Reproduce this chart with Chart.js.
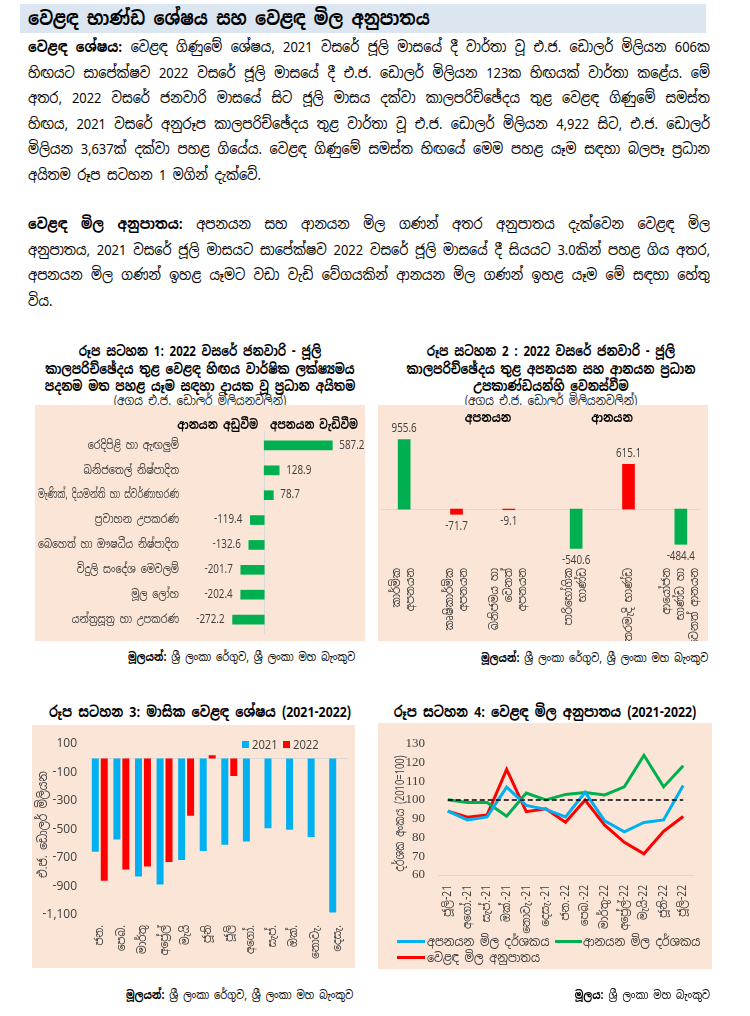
<!DOCTYPE html>
<html lang="si">
<head>
<meta charset="utf-8">
<script src="https://cdn.jsdelivr.net/npm/chart.js@4.4.0/dist/chart.umd.min.js"></script>
<style>
body{margin:0;width:750px;height:1016px;background:#fff;font-family:"Noto Sans Sinhala","Iskoola Pota","Nirmala UI","Noto Sans",sans-serif;color:#000;position:relative;overflow:hidden}
.abs{position:absolute}
#head{left:20px;top:4px;width:686px;height:29px;background:#dce6f1}
#head span{position:absolute;left:8px;top:0;font-weight:bold;font-size:19px;line-height:29px;white-space:nowrap;transform:scaleX(0.87);transform-origin:left center}
.para{left:28px;width:793px;font-size:15px;transform:scaleX(0.86);transform-origin:left top}
.jl{height:25.6px;line-height:25.6px;text-align:justify;text-align-last:justify;overflow:visible}
.ll{height:25.6px;line-height:25.6px}
.ctitle{font-weight:bold;font-size:14px;line-height:17.5px;text-align:center;white-space:nowrap;transform:scaleX(0.82);transform-origin:center top}
.sub{font-size:13px;line-height:16px;text-align:center;color:#222;white-space:nowrap;transform:scaleX(0.82);transform-origin:center top}
.panel{background:#fbe5d6}
.src{font-size:12px;line-height:16px;white-space:nowrap;transform:scaleX(0.82);transform-origin:right center}
.hdr{font-size:13px;font-weight:bold;line-height:18px;white-space:nowrap}
.lg{font-size:13px;line-height:16px;color:#404040;white-space:nowrap;transform:scaleX(0.86);transform-origin:left center}
canvas{position:absolute}
</style>
</head>
<body>
<div id="head" class="abs"><span>වෙළඳ භාණ්ඩ ශේෂය සහ වෙළඳ මිල අනුපාතය</span></div>
<div class="abs para" style="top:34px">
  <div class="jl"><b>වෙළඳ ශේෂය:</b> වෙළඳ ගිණුමේ ශේෂය, 2021 වසරේ ජූලි මාසයේ දී වාර්තා වූ එ.ජ. ඩොලර් මිලියන 606ක</div>
  <div class="jl">හිඟයට සාපේක්ෂව 2022 වසරේ ජූලි මාසයේ දී එ.ජ. ඩොලර් මිලියන 123ක හිඟයක් වාර්තා කළේය. මේ</div>
  <div class="jl">අතර, 2022 වසරේ ජනවාරි මාසයේ සිට ජූලි මාසය දක්වා කාලපරිච්ඡේදය තුළ වෙළඳ ගිණුමේ සමස්ත</div>
  <div class="jl">හිඟය, 2021 වසරේ අනුරූප කාලපරිච්ඡේදය තුළ වාර්තා වූ එ.ජ. ඩොලර් මිලියන 4,922 සිට, එ.ජ. ඩොලර්</div>
  <div class="jl">මිලියන 3,637ක් දක්වා පහළ ගියේය. වෙළඳ ගිණුමේ සමස්ත හිඟයේ මෙම පහළ යෑම සඳහා බලපෑ ප්‍රධාන</div>
  <div class="ll">අයිතම රූප සටහන 1 මගින් දැක්වේ.</div>
</div>
<div class="abs para" style="top:211px">
  <div class="jl"><b>වෙළඳ මිල අනුපාතය:</b> අපනයන සහ ආනයන මිල ගණන් අතර අනුපාතය දැක්වෙන වෙළඳ මිල</div>
  <div class="jl">අනුපාතය, 2021 වසරේ ජූලි මාසයට සාපේක්ෂව 2022 වසරේ ජූලි මාසයේ දී සියයට 3.0කින් පහළ ගිය අතර,</div>
  <div class="jl">අපනයන මිල ගණන් ඉහළ යෑමට වඩා වැඩි වේගයකින් ආනයන මිල ගණන් ඉහළ යෑම මේ සඳහා හේතු</div>
  <div class="ll">විය.</div>
</div>

<!-- chart 1 -->
<div class="abs ctitle" style="left:0px;top:343px;width:400px">රූප සටහන 1: 2022 වසරේ ජනවාරි - ජූලි<br>කාලපරිච්ඡේදය තුළ වෙළඳ හිඟය වාර්ෂික ලක්ෂ්‍යමය<br>පදනම මත පහළ යෑම සඳහා දායක වූ ප්‍රධාන අයිතම</div>
<div class="abs sub" style="left:0px;top:393px;width:400px">(අගය එ.ජ. ඩොලර් මිලියනවලින්)</div>
<div class="abs panel" style="left:35px;top:405px;width:330px;height:236px">
  <canvas id="c1" width="330" height="236"></canvas>
  <div class="abs hdr" style="right:107px;top:11px;transform:scaleX(0.8);transform-origin:right center">ආනයන අඩුවීම</div>
  <div class="abs hdr" style="left:235px;top:11px;transform:scaleX(0.78);transform-origin:left center">අපනයන වැඩිවීම</div>
</div>
<div class="abs src" style="right:395px;top:649px"><b>මූලයන්:</b> ශ්‍රී ලංකා රේගුව, ශ්‍රී ලංකා මහ බැංකුව</div>

<!-- chart 2 -->
<div class="abs ctitle" style="left:351px;top:343px;width:400px">රූප සටහන 2 : 2022 වසරේ ජනවාරි - ජූලි<br>කාලපරිච්ඡේදය තුළ අපනයන සහ ආනයන ප්‍රධාන<br>උපකාණ්ඩයන්හි වෙනස්වීම</div>
<div class="abs sub" style="left:351px;top:393px;width:400px">(අගය එ.ජ. ඩොලර් මිලියනවලින්)</div>
<div class="abs panel" style="left:378px;top:405px;width:330px;height:236px">
  <canvas id="c2a" width="164" height="236" style="left:0;top:0"></canvas>
  <div class="abs hdr" style="left:60px;top:4px;width:100px;text-align:center;transform:scaleX(0.82)">අපනයන</div>
  <div class="abs hdr" style="left:184px;top:4px;width:100px;text-align:center;transform:scaleX(0.82)">ආනයන</div>
  <canvas id="c2b" width="166" height="236" style="left:164px;top:0"></canvas>
</div>
<div class="abs src" style="right:42px;top:650px"><b>මූලයන්:</b> ශ්‍රී ලංකා රේගුව, ශ්‍රී ලංකා මහ බැංකුව</div>

<!-- chart 3 -->
<div class="abs ctitle" style="left:0px;top:703px;width:400px;font-size:15px">රූප සටහන 3: මාසික වෙළඳ ශේෂය (2021-2022)</div>
<div class="abs panel" style="left:32px;top:725px;width:323px;height:243px">
  <canvas id="c3" width="323" height="243"></canvas>
  <div class="abs" style="left:210px;top:16px;width:7px;height:7px;background:#00b0f0"></div>
  <div class="abs lg" style="left:220px;top:12px;font-size:13px">2021</div>
  <div class="abs" style="left:251px;top:16px;width:7px;height:7px;background:#ff0000"></div>
  <div class="abs lg" style="left:261px;top:12px;font-size:13px">2022</div>
</div>
<div class="abs src" style="right:397px;top:987px"><b>මූලයන්:</b> ශ්‍රී ලංකා රේගුව, ශ්‍රී ලංකා මහ බැංකුව</div>

<!-- chart 4 -->
<div class="abs ctitle" style="left:345px;top:703px;width:400px;font-size:15px">රූප සටහන 4: වෙළඳ මිල අනුපාතය (2021-2022)</div>
<div class="abs panel" style="left:378px;top:723px;width:334px;height:246px">
  <canvas id="c4" width="334" height="246"></canvas>
  <div class="abs" style="left:19px;top:217px;width:28px;height:3px;background:#00b0f0"></div>
  <div class="abs lg" style="left:49px;top:211px">අපනයන මිල දර්ශකය</div>
  <div class="abs" style="left:177px;top:217px;width:27px;height:3px;background:#00b050"></div>
  <div class="abs lg" style="left:205px;top:211px">ආනයන මිල දර්ශකය</div>
  <div class="abs" style="left:19px;top:233px;width:28px;height:3px;background:#ff0000"></div>
  <div class="abs lg" style="left:49px;top:227px">වෙළඳ මිල අනුපාතය</div>
</div>
<div class="abs src" style="right:40px;top:987px"><b>මූලය:</b> ශ්‍රී ලංකා මහ බැංකුව</div>

<script>
// රූප සටහන 1
const fig1Items = ["රෙදිපිළි හා ඇඟලුම්", "ඛනිජතෙල් නිෂ්පාදිත", "මැණික්, දියමන්ති හා ස්වර්ණාභරණ", "ප්‍රවාහන උපකරණ", "බෙහෙත් හා ඖෂධීය නිෂ්පාදිත", "විදුලි සංදේශ මෙවලම්", "මූල ලෝහ", "යන්ත්‍රසූත්‍ර හා උපකරණ"];
const fig1Change = [587.2, 128.9, 78.7, -119.4, -132.6, -201.7, -202.4, -272.2];

// රූප සටහන 2
const fig2ExportItems = [["කාර්මික", "අපනයන"], ["කෘෂිකාර්මික", "අපනයන"], ["ඛනිජමය හා", "වෙනත්", "අපනයන"]];
const fig2ExportChange = [955.6, -71.7, -9.1];
const fig2ImportItems = [["පාරිභෝගික", "භාණ්ඩ"], ["අතරමැදි භාණ්ඩ"], ["ආයෝජන", "භාණ්ඩ හා", "වෙනත් ආනයන"]];
const fig2ImportChange = [-540.6, 615.1, -484.4];

// රූප සටහන 3
const months = ["ජන.", "පෙබ.", "මාර්තු", "අප්‍රේල්", "මැයි", "ජූනි", "ජූලි", "අගෝ.", "සැප්.", "ඔක්.", "නොවැ.", "දෙසැ."];
const balance2021 = [-656, -570, -829, -885, -714, -651, -606, -584, -490, -501, -552, -1083];
const balance2022 = [-859, -781, -760, -727, -402, 22, -123];

// රූප සටහන 4
const periods = ["ජූලි-21", "අගෝ.-21", "සැප්.-21", "ඔක්.-21", "නොවැ.-21", "දෙසැ.-21", "ජන.-22", "පෙබ.-22", "මාර්තු-22", "අප්‍රේල්-22", "මැයි-22", "ජූනි-22", "ජූලි-22"];
const exportPriceIdx = [94.1, 89.4, 91.0, 106.9, 97.1, 95.0, 91.0, 104.1, 88.9, 83.0, 88.0, 89.4, 107.8];
const importPriceIdx = [100.2, 98.7, 98.7, 91.3, 103.7, 100.0, 103.0, 104.0, 102.7, 107.0, 123.9, 107.0, 118.3];
const termsOfTrade = [94.1, 90.8, 92.0, 116.3, 93.8, 95.3, 88.2, 100.0, 86.6, 77.4, 71.3, 83.3, 91.2];
const baseYearLevel = 100;

const FONT = '"Noto Sans Sinhala","Iskoola Pota","Nirmala UI","Noto Sans",sans-serif';
const GREEN = "#00b050", RED = "#ff0000", BLUE = "#00b0f0", GREY = "#404040";
Chart.defaults.font.family = FONT;
Chart.defaults.color = GREY;
Chart.defaults.animation = false;
Chart.defaults.responsive = false;
Chart.defaults.plugins.legend.display = false;
Chart.defaults.plugins.tooltip.enabled = false;

// තිරස් අතට හකුළුවා අකුරු ලිවීම
function squeezeText(ctx, text, x, y, sx, maxW) {
    ctx.save();
    ctx.translate(x, y);
    ctx.scale(sx, 1);
    if (maxW) ctx.fillText(text, 0, 0, maxW / sx);
    else ctx.fillText(text, 0, 0);
    ctx.restore();
}

// ශුන්‍ය රේඛාව
const zeroLine = {
    id: "zeroLine",
    beforeDatasetsDraw(chart, args, opts) {
        const ctx = chart.ctx, a = chart.chartArea;
        ctx.save();
        ctx.strokeStyle = "#d9d9d9";
        ctx.lineWidth = 1;
        ctx.beginPath();
        if (opts.axis === "x") {
            const x = Math.round(chart.scales.x.getPixelForValue(0)) + 0.5;
            ctx.moveTo(x, a.top - 2);
            ctx.lineTo(x, a.bottom + 2);
        } else {
            const y = Math.round(chart.scales.y.getPixelForValue(0)) + 0.5;
            ctx.moveTo(opts.left !== undefined ? opts.left : a.left, y);
            ctx.lineTo(opts.right !== undefined ? opts.right : a.right, y);
        }
        ctx.stroke();
        ctx.restore();
    }
};

// තීරු අගයන්
const valueLabels = {
    id: "valueLabels",
    afterDatasetsDraw(chart) {
        const ctx = chart.ctx;
        const horiz = chart.options.indexAxis === "y";
        chart.data.datasets.forEach((ds, i) => {
            chart.getDatasetMeta(i).data.forEach((bar, j) => {
                const v = ds.data[j];
                ctx.save();
                ctx.font = "12px " + FONT;
                ctx.fillStyle = GREY;
                if (horiz) {
                    ctx.textBaseline = "middle";
                    ctx.textAlign = v >= 0 ? "left" : "right";
                    squeezeText(ctx, v.toFixed(1), bar.x + (v >= 0 ? 7 : -8), bar.y, 0.82);
                } else {
                    ctx.textAlign = "center";
                    ctx.textBaseline = v >= 0 ? "bottom" : "top";
                    squeezeText(ctx, v.toFixed(1), bar.x, bar.y + (v >= 0 ? -5 : 6), 0.82);
                }
                ctx.restore();
            });
        });
    }
};

// ප්‍රවර්ග නාම (x: සිරස් අතට, y: තිරස් අතට)
const catLabels = {
    id: "catLabels",
    afterDraw(chart, args, o) {
        const ctx = chart.ctx;
        const sc = chart.scales[o.axis];
        ctx.save();
        ctx.font = o.size + "px " + FONT;
        ctx.fillStyle = GREY;
        ctx.textAlign = "right";
        ctx.textBaseline = "middle";
        chart.data.labels.forEach((lab, i) => {
            const lines = Array.isArray(lab) ? lab : [lab];
            const p = sc.getPixelForValue(i);
            if (o.axis === "x") {
                ctx.save();
                ctx.translate(p, sc.top + o.pad);
                ctx.rotate(-Math.PI / 2);
                lines.forEach((ln, k) => squeezeText(ctx, ln, 0, (k - (lines.length - 1) / 2) * o.lh, o.sx));
                ctx.restore();
            } else {
                squeezeText(ctx, lines.join(" "), sc.right - o.pad, p, o.sx, o.maxW);
            }
        });
        ctx.restore();
    }
};

// y අක්ෂ මාතෘකාව
const yTitle = {
    id: "yTitle",
    afterDraw(chart, args, o) {
        const ctx = chart.ctx, a = chart.chartArea;
        ctx.save();
        ctx.font = o.size + "px " + FONT;
        ctx.fillStyle = GREY;
        ctx.translate(o.x, (a.top + a.bottom) / 2 + o.dy);
        ctx.rotate(-Math.PI / 2);
        ctx.textAlign = "center";
        ctx.textBaseline = "middle";
        squeezeText(ctx, o.text, 0, 0, o.sx);
        ctx.restore();
    }
};

// තිත් රේඛාව (2010=100)
const baseLine = {
    id: "baseLine",
    afterDatasetsDraw(chart) {
        const ctx = chart.ctx;
        const pts = chart.getDatasetMeta(0).data;
        const y = chart.scales.y.getPixelForValue(baseYearLevel);
        ctx.save();
        ctx.strokeStyle = "#000";
        ctx.lineWidth = 1.5;
        ctx.setLineDash([5, 3]);
        ctx.beginPath();
        ctx.moveTo(pts[0].x, y);
        ctx.lineTo(pts[pts.length - 1].x, y);
        ctx.stroke();
        ctx.restore();
    }
};

const hiddenTicks = { display: false };
const noGrid = { display: false, drawTicks: false };
const noBorder = { display: false };

// රූප සටහන 1
new Chart(document.getElementById("c1"), {
    type: "bar",
    data: {
        labels: fig1Items,
        datasets: [{ data: fig1Change, backgroundColor: GREEN, barThickness: 9 }]
    },
    options: {
        indexAxis: "y",
        layout: { padding: { top: 28, bottom: 9, right: 8, left: 0 } },
        scales: {
            x: { min: -700, max: 800, ticks: hiddenTicks, grid: noGrid, border: noBorder, afterFit: s => { s.height = 0; } },
            y: { ticks: hiddenTicks, grid: noGrid, border: noBorder, afterFit: s => { s.width = 148; } }
        },
        plugins: {
            zeroLine: { axis: "x" },
            catLabels: { axis: "y", size: 12, sx: 0.8, pad: 4, maxW: 141 }
        }
    },
    plugins: [zeroLine, valueLabels, catLabels]
});

// රූප සටහන 2
function fig2(id, labels, values, exportSide, pad, lineFrom, lineTo) {
    // අපනයන වැඩිවීම හා ආනයන අඩුවීම කොළ පාටින්
    const colors = values.map(v => ((v >= 0) === exportSide ? GREEN : RED));
    new Chart(document.getElementById(id), {
        type: "bar",
        data: { labels: labels, datasets: [{ data: values, backgroundColor: colors, barThickness: 12 }] },
        options: {
            layout: { padding: { top: 24, bottom: 0, left: pad[0], right: pad[1] } },
            scales: {
                x: { ticks: hiddenTicks, grid: noGrid, border: noBorder, afterFit: s => { s.height = 81; } },
                y: { display: false, min: -700, max: 1100 }
            },
            plugins: {
                zeroLine: { left: lineFrom, right: lineTo },
                catLabels: { axis: "x", size: 12, sx: 0.85, pad: 8, lh: 14 }
            }
        },
        plugins: [zeroLine, valueLabels, catLabels]
    });
}
fig2("c2a", fig2ExportItems, fig2ExportChange, true, [0, 7], 2, 164);
fig2("c2b", fig2ImportItems, fig2ImportChange, false, [8, 1], 0, 158);

// රූප සටහන 3
new Chart(document.getElementById("c3"), {
    type: "bar",
    data: {
        labels: months,
        datasets: [
            { label: "2021", data: balance2021, backgroundColor: BLUE, categoryPercentage: 0.83, barPercentage: 0.78 },
            { label: "2022", data: balance2022, backgroundColor: RED, categoryPercentage: 0.83, barPercentage: 0.78 }
        ]
    },
    options: {
        layout: { padding: { top: 17, bottom: 0, left: 0, right: 7 } },
        scales: {
            x: { ticks: hiddenTicks, grid: noGrid, border: noBorder, afterFit: s => { s.height = 53; } },
            y: {
                min: -1100, max: 100,
                ticks: { stepSize: 200, font: { size: 12 }, color: GREY, padding: 12, autoSkip: false },
                grid: noGrid, border: noBorder,
                afterFit: s => { s.width = 57; }
            }
        },
        plugins: {
            catLabels: { axis: "x", size: 12, sx: 0.85, pad: 10, lh: 14 },
            yTitle: { text: "එ.ජ. ඩොලර් මිලියන", x: 11, dy: -5, size: 13, sx: 0.82 }
        }
    },
    plugins: [zeroLine, catLabels, yTitle]
});

// රූප සටහන 4
const lineDs = (label, data, color) => ({
    label: label, data: data, borderColor: color, backgroundColor: color,
    borderWidth: 3, pointRadius: 0, tension: 0, fill: false
});
new Chart(document.getElementById("c4"), {
    type: "line",
    data: {
        labels: periods,
        datasets: [
            lineDs("අපනයන මිල දර්ශකය", exportPriceIdx, BLUE),
            lineDs("ආනයන මිල දර්ශකය", importPriceIdx, GREEN),
            lineDs("වෙළඳ මිල අනුපාතය", termsOfTrade, RED)
        ]
    },
    options: {
        layout: { padding: { top: 19, bottom: 34, left: 0, right: 19 } },
        scales: {
            x: {
                offset: true,
                ticks: hiddenTicks, grid: noGrid,
                border: { display: true, color: "#d9d9d9" },
                afterFit: s => { s.height = 60; }
            },
            y: {
                min: 60, max: 130,
                ticks: { stepSize: 10, autoSkip: false, font: { size: 13, family: '"Liberation Serif","Times New Roman",serif' }, color: GREY, padding: 13 },
                grid: noGrid, border: noBorder,
                afterFit: s => { s.width = 60; }
            }
        },
        plugins: {
            catLabels: { axis: "x", size: 12, sx: 0.85, pad: 10, lh: 14 },
            yTitle: { text: "දර්ශක අංකය (2010=100)", x: 22, dy: 4, size: 13, sx: 0.72 }
        }
    },
    plugins: [baseLine, catLabels, yTitle]
});
</script>
</body>
</html>
